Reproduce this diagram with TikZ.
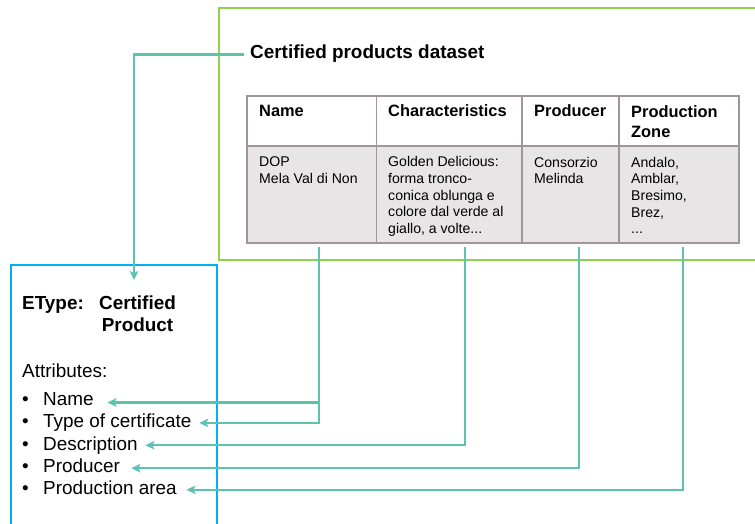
\documentclass[tikz,border=0pt]{standalone}
\usepackage{fontspec}
\setmainfont{Liberation Sans}
\usetikzlibrary{arrows.meta}
\definecolor{dsgreen}{RGB}{146,208,80}
\definecolor{etblue}{RGB}{0,176,240}
\definecolor{conncol}{RGB}{90,196,176}
\definecolor{tabborder}{RGB}{160,150,152}
\definecolor{tabfill}{RGB}{231,229,230}
\begin{document}
\begin{tikzpicture}[x=1pt,y=-1pt,
  frame/.style={draw, line width=2pt, inner sep=0pt, outer sep=0pt, anchor=north west},
  hcell/.style={draw=tabborder, fill=white, line width=1.6pt, inner sep=0pt, outer sep=0pt, anchor=north west},
  bcell/.style={hcell, fill=tabfill},
  htext/.style={font=\fontsize{16.4}{20}\selectfont\bfseries, inner sep=0pt, align=left},
  ctext/.style={font=\fontsize{14.1}{16.6}\selectfont, inner sep=0pt, align=left, anchor=north west},
  bigtext/.style={font=\fontsize{18.9}{22}\selectfont, inner sep=0pt},
  item/.style={bigtext, anchor=base west, text height=13.2pt, text depth=3.2pt},
  conn/.style={draw=conncol, line width=2.3pt},
  arr/.style={conn, -{Stealth[length=9pt,width=8.5pt,inset=2pt]}}
]
\useasboundingbox (0,0) rectangle (755,524);
\clip (0,0) rectangle (755,524);

% frames
\node[frame, draw=dsgreen, minimum width=560pt, minimum height=252pt] (dsbox) at (219,8) {};
\node[frame, draw=etblue, minimum width=206pt, minimum height=280pt] (ebox) at (11,265) {};

% title
\node[font=\fontsize{18.9}{22}\selectfont\bfseries, inner xsep=6.3pt, inner ysep=0pt,
      text height=13.5pt, text depth=5.9pt, anchor=base west] (title) at (243.7,58.3) {Certified products dataset};

% table cells
\node[hcell, minimum width=129.5pt, minimum height=50pt] (hName) at (247,96) {};
\node[hcell, minimum width=145.5pt, minimum height=50pt] (hChar) at (376.5,96) {};
\node[hcell, minimum width=97pt, minimum height=50pt] (hProd) at (522,96) {};
\node[hcell, minimum width=120pt, minimum height=50pt] (hZone) at (619,96) {};
\node[bcell, minimum width=129.5pt, minimum height=97pt] (bName) at (247,146) {};
\node[bcell, minimum width=145.5pt, minimum height=97pt] (bChar) at (376.5,146) {};
\node[bcell, minimum width=97pt, minimum height=97pt] (bProd) at (522,146) {};
\node[bcell, minimum width=120pt, minimum height=97pt] (bZone) at (619,146) {};

% header texts
\node[htext, anchor=base west] (thName) at (259,117) {Name};
\node[htext, anchor=base west] (thChar) at (388,117) {Characteristics};
\node[htext, anchor=base west] (thProd) at (534,117) {Producer};
\node[htext, anchor=north west] (thZone) at (631,105.2) {Production\\Zone};

% body texts
\node[ctext] (tbName) at (259,156.8) {DOP\\Mela Val di Non};
\node[ctext] (tbChar) at (388,156.5) {Golden Delicious:\\forma tronco-\\conica oblunga e\\colore dal verde al\\giallo, a volte...};
\node[ctext] (tbProd) at (534,156.8) {Consorzio\\Melinda};
\node[ctext] (tbZone) at (631,156.8) {Andalo,\\Amblar,\\Bresimo,\\Brez,\\...};

% EType box texts
\node[bigtext, font=\fontsize{18.9}{22}\selectfont\bfseries, anchor=base west] (etlabel) at (22,309.3) {EType:};
\node[bigtext, font=\fontsize{18.9}{22}\selectfont\bfseries, align=center, anchor=north] (etname) at (137.5,296) {Certified\\Product};
\node[bigtext, anchor=base west] (attr) at (22,377) {Attributes:};
\node[item] (iName) at (21.8,405.6) {\makebox[21.2pt][l]{•}Name};
\node[item] (iType) at (21.8,427.9) {\makebox[21.2pt][l]{•}Type of certificate};
\node[item] (iDesc) at (21.8,450.2) {\makebox[21.2pt][l]{•}Description};
\node[item] (iProd) at (21.8,472.5) {\makebox[21.2pt][l]{•}Producer};
\node[item] (iArea) at (21.8,494.8) {\makebox[21.2pt][l]{•}Production area};

% connector anchors
\coordinate (jName) at ([xshift=7.25pt,yshift=-4pt]bName.south);
\coordinate (jChar) at ([xshift=15.75pt,yshift=-4pt]bChar.south);
\coordinate (jProd) at ([xshift=8.5pt,yshift=-4pt]bProd.south);
\coordinate (jZone) at ([xshift=4pt,yshift=-4pt]bZone.south);
\coordinate (tName) at ([xshift=13.6pt,yshift=-1.9pt]iName.east);
\coordinate (tType) at ([xshift=7.8pt]iType.east);
\coordinate (tDesc) at ([xshift=7.5pt]iDesc.east);
\coordinate (tProd) at ([xshift=11.3pt,yshift=-0.7pt]iProd.east);
\coordinate (tArea) at ([xshift=9.6pt]iArea.east);

% connectors
\draw[arr] (title.west) -| ([xshift=20pt,yshift=-15pt]ebox.north);
\draw[arr] (jName) |- (tType);
\draw[arr] (tName -| jName) -- (tName);
\draw[arr] (jChar) |- (tDesc);
\draw[arr] (jProd) |- (tProd);
\draw[arr] (jZone) |- (tArea);
\end{tikzpicture}
\end{document}
